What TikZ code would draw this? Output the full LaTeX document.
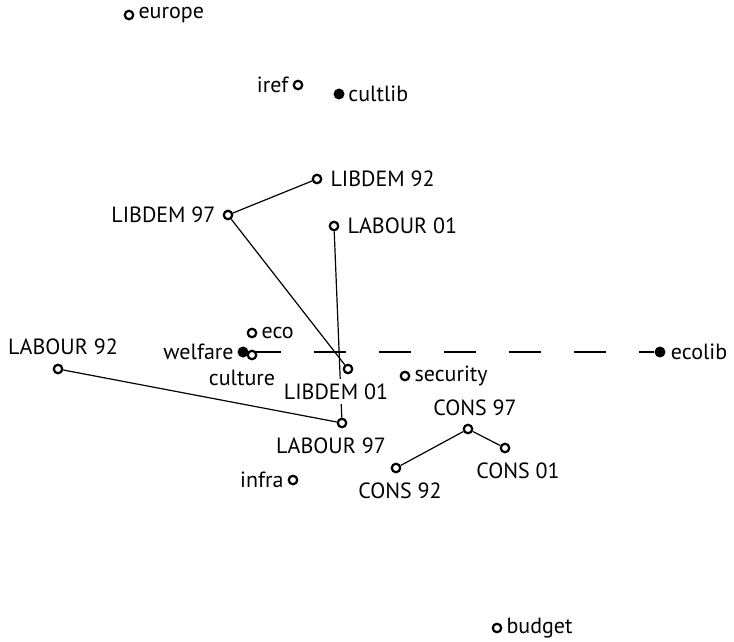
\documentclass[tikz,border=0pt]{standalone}
\usepackage{fontspec}
\setmainfont{PT Sans}
\usetikzlibrary{backgrounds}
\tikzset{
  opn/.style={circle,draw,line width=2.2pt,fill=white,inner sep=0pt,minimum size=8.5pt},
  fil/.style={circle,fill,inner sep=0pt,minimum size=11pt},
  every label/.style={inner sep=0pt,font=\fontsize{22}{26}\selectfont},
  label distance=4pt,
  link/.style={line width=1.2pt},
}
\begin{document}
\begin{tikzpicture}[x=1pt,y=-1pt]
\useasboundingbox (0,0) rectangle (734,642);
%%% the issue positions
\node[opn,label=right:europe] (europe) at (129,15) {};
\node[opn,label=left:iref] (iref) at (298,85) {};
\node[fil,label={[label distance=3.5pt]right:cultlib}] (cultlib) at (339,94) {};
\node[opn,label=right:eco] (eco) at (252,333) {};
\node[fil,label={[label distance=3.5pt]left:welfare}] (welfare) at (243,352) {};
\node[opn,label={[xshift=-10pt,label distance=10pt]below:culture}] (culture) at (252,355) {};
\node[fil,label={[label distance=5pt]right:ecolib}] (ecolib) at (660,352) {};
\node[opn,label=right:security] (security) at (405,376) {};
\node[opn,label=left:infra] (infra) at (293,480) {};
\node[opn,label=right:budget] (budget) at (497,628) {};
%%% the parties, one node per election
\node[opn,label={[label distance=8pt]right:LIBDEM 92}] (lib92) at (317,179) {};
\node[opn,label={[label distance=7pt]left:LIBDEM 97}] (lib97) at (228,215) {};
\node[opn,label={[xshift=-12pt,fill=white,inner sep=5pt,label distance=4pt]below:LIBDEM 01}] (lib01) at (348,369) {};
\node[opn,label={[xshift=5pt,label distance=9pt]above:LABOUR 92}] (lab92) at (58,369) {};
\node[opn,label={[xshift=-11pt,label distance=9pt]below:LABOUR 97}] (lab97) at (342,423) {};
\node[opn,label={[label distance=8pt]right:LABOUR 01}] (lab01) at (334,226) {};
\node[opn,label={[xshift=4pt,label distance=9pt]below:CONS 92}] (cons92) at (396,468) {};
\node[opn,label={[xshift=7pt,label distance=8pt]above:CONS 97}] (cons97) at (468,429) {};
\node[opn,label={[xshift=13pt,label distance=9pt]below:CONS 01}] (cons01) at (505,448) {};
%%% the paths, drawn under the nodes
\begin{scope}[on background layer]
\draw[link] (lib97) -- (lib92);
\draw[link] (lib97) -- (lib01);
\draw[link] (lab01) -- (lab97);
\draw[link] (lab92) -- (lab97);
\draw[link] (cons92) -- (cons97) -- (cons01);
\draw[link,dash pattern=on 32pt off 33pt] (welfare) -- (ecolib);
\end{scope}
\end{tikzpicture}
\end{document}
